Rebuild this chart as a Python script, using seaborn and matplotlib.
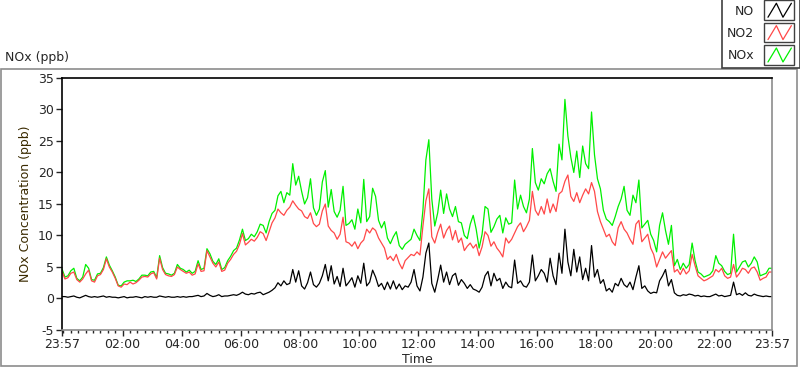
import numpy as np
import pandas as pd
import matplotlib
matplotlib.use('Agg')
import matplotlib.pyplot as plt
import seaborn as sns
from matplotlib.legend_handler import HandlerBase
from matplotlib.lines import Line2D
from matplotlib.patches import Rectangle

# readings every 6 minutes, first one at 23:57 (= -0.05 h), last at 23:57 next day
start_h = -0.05
step_h = 0.1

no2 = [4.3, 3.1, 3.3, 4.0, 4.2, 3.0, 2.6, 3.1, 3.9, 4.5, 2.8, 2.6, 3.6, 3.8, 4.6, 6.3, 5.0, 4.2, 3.2, 2.0,
       1.8, 2.3, 2.2, 2.6, 2.3, 2.5, 2.9, 3.4, 3.5, 3.4, 3.9, 4.1, 3.1, 6.4,
       4.6, 3.8, 3.6, 3.5, 3.8, 5.0, 4.6, 4.3, 4.0, 4.2, 3.7, 3.9, 5.5, 4.3, 4.4, 7.6, 6.6, 5.6, 5.0, 5.8,
       4.3, 4.5, 5.6, 6.2, 7.0, 7.5, 8.6, 10.3, 8.5, 8.9, 9.4, 9.1, 9.7, 10.6,
       10.3, 9.2, 10.6, 12.0, 12.8, 14.2, 13.6, 13.2, 14.0, 14.5, 15.5, 14.8, 14.2, 13.9, 13.0, 12.7, 13.6,
       11.9, 11.4, 11.8, 13.9, 15.0, 11.5, 10.8, 10.4, 9.4, 10.2, 12.9, 9.0, 8.8, 8.3, 9.0, 7.9, 8.8,
       9.3, 11.0, 10.4, 11.2, 10.8, 9.6, 8.8, 8.0, 6.2, 6.7, 6.0, 7.0, 5.6, 4.7, 6.0, 6.5, 7.0, 6.8, 7.4, 6.9,
       11.5, 15.5, 17.4, 9.8, 8.8, 10.5, 11.8, 9.6, 10.8, 11.5, 9.3, 10.8, 8.9, 9.6,
       7.6, 8.3, 8.8, 8.0, 8.6, 6.8, 8.2, 10.6, 10.0, 8.3, 9.0, 8.0, 7.4, 6.6, 9.6, 8.8, 9.4, 10.4, 11.4, 12.0,
       10.6, 11.4, 12.4, 17.0, 14.0, 13.2, 14.6, 13.4, 15.8, 13.6, 15.0, 13.8, 16.6, 17.0,
       18.6, 19.6, 16.2, 15.4, 16.8, 15.2, 16.4, 17.4, 16.6, 18.4, 17.0, 13.8, 12.2, 11.0, 9.8, 10.2, 9.0,
       8.4, 11.2, 12.2, 11.0, 10.4, 9.4, 8.6, 11.8, 12.4, 9.0, 9.6, 10.2, 8.0, 7.0, 5.0, 6.2, 7.4,
       6.4, 7.0, 7.6, 4.2, 4.6, 3.8, 4.8, 3.9, 4.4, 7.0, 5.2, 3.6, 3.2, 2.8, 3.0, 3.3, 3.6, 4.6, 4.2, 4.8,
       3.6, 3.2, 3.4, 5.4, 3.4, 4.0, 4.8, 4.6, 4.0, 4.8, 5.0, 4.2, 2.9, 3.2, 3.4, 4.2, 4.2]

nox = [4.7, 3.4, 3.6, 4.4, 4.8, 3.2, 2.8, 3.4, 5.4, 4.8, 3.0, 2.9, 3.9, 4.0, 4.9, 6.6, 5.3, 4.4, 3.4, 2.1,
       2.0, 2.6, 2.8, 2.8, 2.9, 2.7, 3.1, 3.7, 3.7, 3.6, 4.2, 4.3, 3.3, 6.8,
       4.9, 4.0, 3.9, 3.7, 4.0, 5.4, 4.8, 4.6, 4.2, 4.5, 4.0, 4.3, 6.0, 4.6, 4.8, 7.9, 7.1, 5.9, 5.4, 6.3,
       4.6, 4.9, 6.0, 6.7, 7.6, 8.0, 9.3, 11.0, 9.2, 9.5, 10.2, 9.8, 10.6, 11.8,
       11.6, 10.4, 12.2, 13.5, 14.0, 16.3, 17.0, 15.2, 16.8, 16.4, 21.4, 18.0, 19.4, 17.0, 15.0, 16.0, 19.0,
       14.4, 13.2, 14.2, 18.5, 20.3, 14.5, 17.3, 13.8, 12.9, 14.0, 17.8, 11.6, 11.9, 12.5, 11.0, 14.2, 12.0,
       18.9, 12.2, 13.0, 17.5, 16.2, 12.4, 11.2, 12.2, 9.6, 8.7, 9.8, 10.6, 8.4, 7.8, 8.6, 9.0, 9.4, 11.0,
       10.0, 9.2, 14.0, 22.0, 25.2, 15.8, 11.5, 13.6, 17.2, 13.5, 16.6, 14.2, 13.0, 14.6, 12.2, 12.0,
       10.0, 9.5, 11.8, 13.2, 11.0, 8.0, 10.2, 14.6, 14.2, 10.5, 11.4, 12.6, 13.2, 10.4, 12.8, 11.8, 12.0,
       18.8, 14.2, 16.4, 14.6, 13.6, 15.8, 23.8, 18.4, 17.2, 19.0, 18.2, 19.8, 20.6, 18.6, 17.0, 24.5, 22.0,
       31.6, 25.8, 22.4, 20.0, 23.4, 19.2, 24.2, 21.4, 20.6, 29.6, 22.8, 19.0, 17.4, 14.0, 12.6, 12.2, 11.6,
       13.0, 14.6, 15.8, 17.8, 14.0, 13.2, 16.4, 15.2, 18.8, 11.2, 11.8, 12.4, 10.2, 9.2, 7.4, 11.6, 13.6,
       10.8, 8.6, 11.6, 5.2, 6.2, 4.6, 5.6, 4.8, 5.4, 8.8, 6.0, 4.2, 3.9, 3.4, 3.6, 3.8, 4.4, 6.8, 5.6, 5.2,
       4.3, 3.8, 4.0, 10.2, 4.2, 5.0, 5.8, 6.0, 5.0, 5.6, 6.6, 5.8, 3.6, 3.8, 4.0, 4.8, 4.8]

no = [0.3, 0.3, 0.2, 0.3, 0.4, 0.2, 0.1, 0.3, 0.5, 0.3, 0.2, 0.3, 0.2, 0.3, 0.4, 0.2, 0.3, 0.2, 0.2, 0.1,
      0.2, 0.3, 0.1, 0.2, 0.2, 0.3, 0.2, 0.1, 0.3, 0.2, 0.3, 0.2, 0.2, 0.4,
      0.3, 0.2, 0.3, 0.2, 0.2, 0.3, 0.2, 0.3, 0.2, 0.3, 0.3, 0.4, 0.5, 0.3, 0.4, 0.8, 0.5, 0.3, 0.4, 0.6,
      0.3, 0.4, 0.4, 0.5, 0.6, 0.5, 0.7, 1.0, 0.7, 0.6, 0.8, 0.7, 0.9, 1.0,
      0.6, 0.8, 1.0, 1.3, 1.7, 2.5, 2.0, 2.8, 2.2, 2.4, 4.6, 2.6, 4.4, 2.0, 1.5, 2.5, 4.2, 2.2, 1.8, 2.4,
      3.6, 5.4, 2.8, 5.2, 2.3, 3.5, 1.9, 4.8, 2.0, 2.6, 3.3, 1.8, 3.6, 2.4,
      5.6, 2.0, 2.6, 4.5, 3.4, 1.9, 2.4, 1.4, 2.6, 1.5, 2.8, 1.5, 2.3, 1.4, 2.0, 1.8, 2.6, 4.6, 2.0, 1.2,
      3.4, 7.2, 8.8, 2.4, 1.0, 3.0, 5.3, 2.6, 4.2, 2.2, 3.6, 4.0, 2.1, 3.0,
      2.4, 1.6, 2.2, 1.5, 1.3, 1.0, 1.8, 3.6, 4.3, 2.0, 4.0, 2.8, 3.2, 1.6, 2.6, 1.9, 1.7, 6.1, 2.4, 2.8,
      2.0, 1.8, 2.6, 6.9, 2.8, 3.6, 4.6, 4.0, 2.6, 6.4, 3.6, 2.2, 7.2, 4.0,
      11.0, 5.8, 3.6, 7.8, 4.2, 6.6, 3.0, 4.8, 2.8, 8.4, 3.4, 4.6, 2.4, 3.0, 1.2, 1.6, 1.0, 2.4, 2.0, 3.2,
      2.2, 1.8, 2.6, 1.4, 3.4, 5.2, 1.6, 2.0, 1.2, 0.8, 1.0, 0.9, 2.8, 3.6,
      4.6, 2.0, 3.0, 0.9, 0.5, 0.4, 0.6, 0.5, 0.7, 0.6, 0.4, 0.5, 0.3, 0.4, 0.3, 0.3, 0.5, 0.7, 0.4, 0.5,
      0.3, 0.4, 0.5, 2.6, 0.6, 0.8, 0.5, 0.9, 0.5, 0.4, 0.7, 0.5, 0.4, 0.3, 0.4, 0.3, 0.3]

tick_hours = [-0.05, 2, 4, 6, 8, 10, 12, 14, 16, 18, 20, 22, 23.95]
tick_labels = ['23:57', '02:00', '04:00', '06:00', '08:00', '10:00', '12:00',
               '14:00', '16:00', '18:00', '20:00', '22:00', '23:57']

time_h = start_h + step_h * np.arange(len(no))
df = pd.DataFrame({'Time': np.tile(time_h, 3),
                   'ppb': nox + no2 + no,
                   'Series': ['NOx'] * len(nox) + ['NO2'] * len(no2) + ['NO'] * len(no)})

colors = {'NO': '#000000', 'NO2': '#ff4848', 'NOx': '#00f000'}

sns.set_style('white')
plt.rcParams['font.family'] = ['DejaVu Sans']
plt.rcParams['axes.unicode_minus'] = False

fig = plt.figure(figsize=(8, 3.69), dpi=100)
ax = fig.add_axes([0.0775, 0.1057, 0.8875, 0.683])

sns.lineplot(data=df, x='Time', y='ppb', hue='Series', hue_order=['NOx', 'NO2', 'NO'],
             palette=colors, estimator=None, lw=0.9, legend=False, ax=ax)

ax.set_xlim(-0.05, 23.95)
ax.set_ylim(-5, 35)
ax.set_yticks(range(-5, 36, 5))
ax.set_xticks(tick_hours)
ax.set_xticklabels(tick_labels)
ax.set_xticks(np.arange(0, 24, 0.25), minor=True)
ax.tick_params(axis='both', which='major', direction='out', length=4, width=1, labelsize=9, pad=2,
               bottom=True, left=True)
ax.tick_params(axis='x', which='minor', direction='out', length=2.5, width=1, bottom=True)
ax.set_xlabel('Time', fontsize=9, labelpad=1)
ax.set_ylabel('NOx Concentration (ppb)', fontsize=9, color='#3a2a00', labelpad=4)

for side in ['top', 'left']:
    ax.spines[side].set_color('black')
    ax.spines[side].set_linewidth(1.2)
for side in ['right', 'bottom']:
    ax.spines[side].set_color('#8c8c8c')
    ax.spines[side].set_linewidth(1.2)

# outer panel frame and caption
fig.add_artist(Rectangle((0.001, 0.007), 0.995, 0.806, transform=fig.transFigure,
                         fill=False, edgecolor='#8c8c8c', lw=1.2))
fig.text(0.006, 0.843, 'NOx (ppb)', fontsize=9, va='center', ha='left')


class ZigzagHandler(HandlerBase):
    def create_artists(self, legend, orig_handle, xdescent, ydescent, width, height, fontsize, trans):
        box = Rectangle((-xdescent, -ydescent - 3), width, height + 6, facecolor='white',
                        edgecolor='#404040', lw=1, transform=trans)
        xs = -xdescent + width * np.array([0.12, 0.4, 0.62, 0.9])
        ys = -ydescent - 1 + (height + 2) * np.array([0.0, 1.0, 0.0, 1.0])
        zz = Line2D(xs, ys, color=orig_handle.get_color(), lw=0.9, transform=trans)
        return [box, zz]


handles = [Line2D([], [], color=colors[k]) for k in ['NO', 'NO2', 'NOx']]
leg = fig.legend(handles, ['NO', 'NO2', 'NOx'], loc='upper right', bbox_to_anchor=(1.0, 1.003),
                 markerfirst=False, fancybox=False, edgecolor='#404040', framealpha=1,
                 fontsize=9, handlelength=2.4, handleheight=1.0, labelspacing=0.75,
                 handletextpad=0.8, borderpad=0.45, borderaxespad=0.0,
                 handler_map={Line2D: ZigzagHandler()})
leg.get_frame().set_linewidth(1.2)

fig.savefig('out.png', dpi=100)
